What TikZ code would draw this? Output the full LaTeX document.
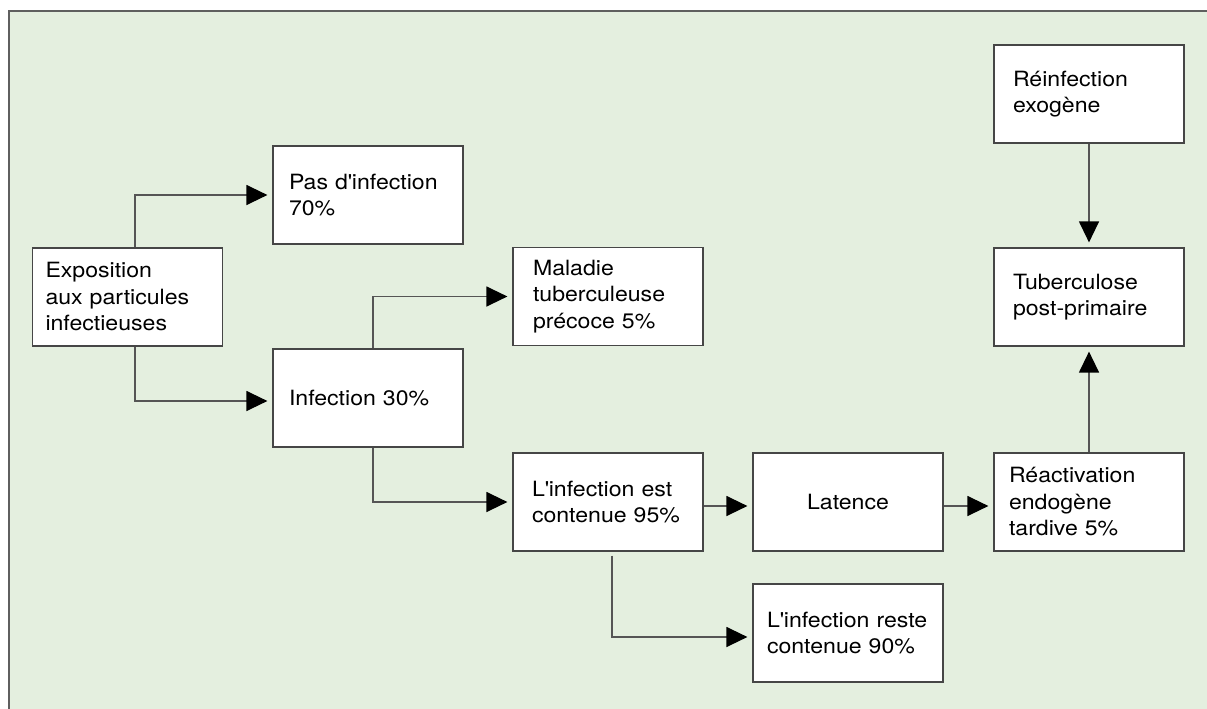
\documentclass[tikz,border=0pt]{standalone}
\usepackage{fontspec}
\setmainfont{TeX Gyre Heros}[FakeStretch=1.1]
\usetikzlibrary{arrows.meta}
\definecolor{panel}{RGB}{228,239,223}
\definecolor{framecol}{RGB}{95,95,95}
\definecolor{edge}{RGB}{70,70,70}
\definecolor{rule}{RGB}{85,85,85}
\begin{document}
\begin{tikzpicture}[x=1pt,y=-1pt,
  box/.style={draw=edge, line width=1.2pt, fill=white, minimum height=98pt,
    inner ysep=0pt, align=left, inner xsep=#1pt,
    text width=\the\numexpr190-2*#1\relax pt,
    font=\fontsize{21pt}{26.5pt}\selectfont},
  box/.default=16,
  conn/.style={draw=rule, line width=1.3pt,
    -{Triangle[length=21pt,width=20pt,color=black]}, shorten >=5pt},
]
\useasboundingbox (0,0) rectangle (1207,709);
% panel background with its top and left rules
\fill[panel] (9,11) rectangle (1207,709);
\draw[framecol, line width=1.5pt] (9,709) -- (9,11) -- (1207,11);

% boxes
\node[box=13] (expo) at (127.5,297) {Exposition\\aux particules\\infectieuses};
\node[box=16] (pas) at (368,195) {Pas d\textquotesingle infection\\70\%};
\node[box=16] (inf) at (368,398) {Infection 30\%};
\node[box=20] (mal) at (608,296.5) {Maladie\\tuberculeuse\\précoce 5\%};
\node[box=19] (cont) at (608,502) {L\textquotesingle infection est\\contenue 95\%};
\node[box=16, align=center] (lat) at (848,502) {Latence};
\node[box=14] (reste) at (848,633) {L\textquotesingle infection~reste\\contenue 90\%};
\node[box=19] (reinf) at (1089,94) {Réinfection\\exogène};
\node[box=19] (tub) at (1089,297) {Tuberculose\\post-primaire};
\node[box=15] (react) at (1089,502) {Réactivation\\endogène\\tardive 5\%};

% connectors
\draw[conn] ([xshift=7.5pt]expo.north) |- (pas);
\draw[conn] ([xshift=7.5pt]expo.south) |- ([yshift=-3pt]inf.west);
\draw[conn] ([xshift=5pt]inf.north) |- (mal);
\draw[conn] ([xshift=5pt]inf.south) |- (cont);
\draw[conn] ([xshift=4pt,yshift=-4pt]cont.south) |- ([yshift=-4pt]reste.west);
\draw[conn] ([yshift=-4pt]cont.east) -- ([yshift=-4pt]lat.west);
\draw[conn] ([yshift=-4pt]lat.east) -- ([yshift=-4pt]react.west);
\draw[conn] (reinf) -- (tub);
\draw[conn] (react) -- (tub);
\end{tikzpicture}
\end{document}
